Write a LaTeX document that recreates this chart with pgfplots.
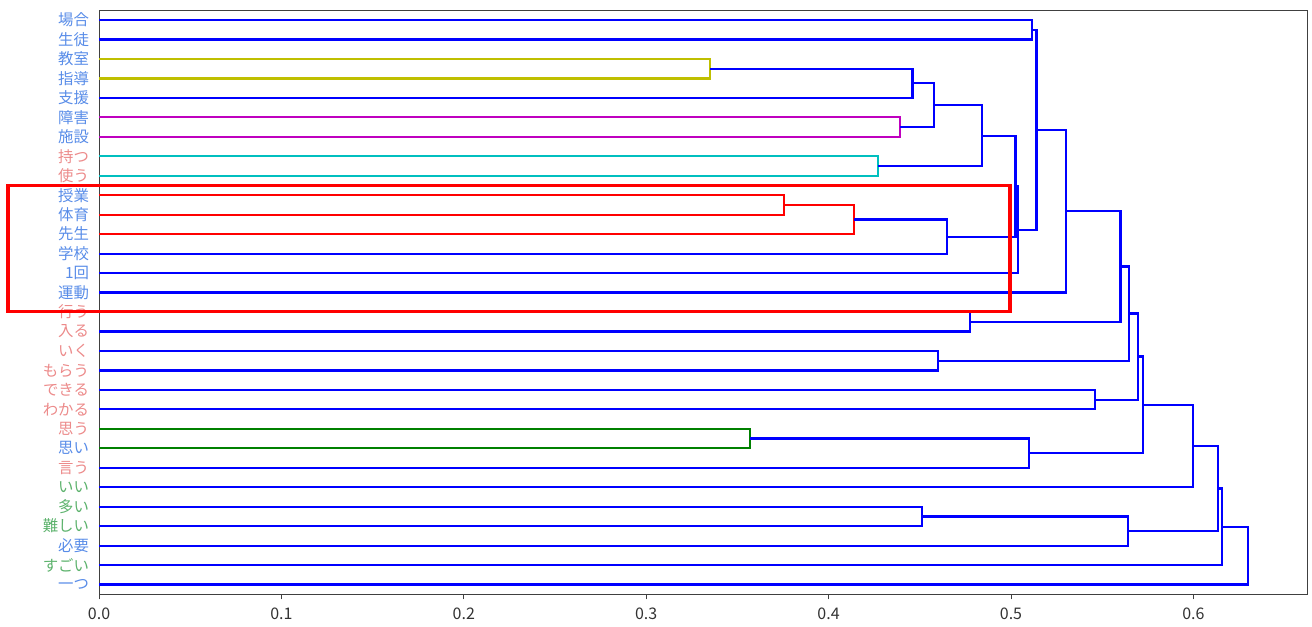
\documentclass[border=0pt]{standalone}
\usepackage{pgfplots}
\pgfplotsset{compat=1.18}
\usepackage{fontspec}
\newfontfamily\jp{Noto Sans CJK JP}

% link colours
\definecolor{linkblue}{RGB}{0,0,255}
\definecolor{linkyellow}{RGB}{191,191,0}
\definecolor{linkmagenta}{RGB}{191,0,191}
\definecolor{linkcyan}{RGB}{0,191,191}
\definecolor{linkred}{RGB}{255,0,0}
\definecolor{linkgreen}{RGB}{0,128,0}
% label colours
\definecolor{lb}{RGB}{88,140,232}
\definecolor{lp}{RGB}{236,138,138}
\definecolor{lg}{RGB}{92,178,108}

\begin{document}
\begin{tikzpicture}
\begin{axis}[
  scale only axis,
  width=604pt, height=292pt,
  xmin=0, xmax=0.6623,
  ymin=-0.5, ymax=29.5,
  y dir=reverse,
  clip=false,
  axis line style={draw=black!75, line width=0.5pt},
  xtick={0,0.1,0.2,0.3,0.4,0.5,0.6},
  xticklabels={0.0,0.1,0.2,0.3,0.4,0.5,0.6},
  xtick pos=bottom,
  tick align=outside,
  major tick length=2.5pt,
  tick style={draw=black!75, line width=0.4pt},
  xticklabel style={font=\jp\fontsize{8}{9}\selectfont, text=black!80, yshift=-1pt},
  ytick={0,...,29},
  ytick style={draw=none},
  yticklabel style={font=\jp\fontsize{7.7}{8}\selectfont, xshift=1pt},
  yticklabels={
    {\color{lb}場合},{\color{lb}生徒},{\color{lb}教室},{\color{lb}指導},{\color{lb}支援},
    {\color{lb}障害},{\color{lb}施設},{\color{lp}持つ},{\color{lp}使う},{\color{lb}授業},
    {\color{lb}体育},{\color{lb}先生},{\color{lb}学校},{\color{lb}1回},{\color{lb}運動},
    {\color{lp}行う},{\color{lp}入る},{\color{lp}いく},{\color{lp}もらう},{\color{lp}できる},
    {\color{lp}わかる},{\color{lp}思う},{\color{lb}思い},{\color{lp}言う},{\color{lg}いい},
    {\color{lg}多い},{\color{lg}難しい},{\color{lb}必要},{\color{lg}すごい},{\color{lb}一つ}},
  every axis plot/.append style={line width=1.1pt, mark=none},
]
% each link: (child height, child position) -> merge height -> (other child)
\addplot[linkblue] coordinates {(0,0) (0.5115,0) (0.5115,1) (0,1)};
\addplot[linkyellow] coordinates {(0,2) (0.335,2) (0.335,3) (0,3)};
\addplot[linkblue] coordinates {(0.335,2.5) (0.446,2.5) (0.446,4) (0,4)};
\addplot[linkmagenta] coordinates {(0,5) (0.439,5) (0.439,6) (0,6)};
\addplot[linkblue] coordinates {(0.446,3.25) (0.458,3.25) (0.458,5.5) (0.439,5.5)};
\addplot[linkcyan] coordinates {(0,7) (0.427,7) (0.427,8) (0,8)};
\addplot[linkblue] coordinates {(0.458,4.375) (0.484,4.375) (0.484,7.5) (0.427,7.5)};
\addplot[linkred] coordinates {(0,9) (0.3755,9) (0.3755,10) (0,10)};
\addplot[linkred] coordinates {(0.3755,9.5) (0.414,9.5) (0.414,11) (0,11)};
\addplot[linkblue] coordinates {(0.414,10.25) (0.465,10.25) (0.465,12) (0,12)};
\addplot[linkblue] coordinates {(0.484,5.9375) (0.5025,5.9375) (0.5025,11.125) (0.465,11.125)};
\addplot[linkblue] coordinates {(0.5025,8.531) (0.504,8.531) (0.504,13) (0,13)};
\addplot[linkblue] coordinates {(0.5115,0.5) (0.514,0.5) (0.514,10.766) (0.504,10.766)};
\addplot[linkblue] coordinates {(0.514,5.633) (0.530,5.633) (0.530,14) (0,14)};
\addplot[linkblue] coordinates {(0,15) (0.4775,15) (0.4775,16) (0,16)};
\addplot[linkblue] coordinates {(0.530,9.816) (0.560,9.816) (0.560,15.5) (0.4775,15.5)};
\addplot[linkblue] coordinates {(0,17) (0.460,17) (0.460,18) (0,18)};
\addplot[linkblue] coordinates {(0.560,12.658) (0.5647,12.658) (0.5647,17.5) (0.460,17.5)};
\addplot[linkblue] coordinates {(0,19) (0.546,19) (0.546,20) (0,20)};
\addplot[linkblue] coordinates {(0.5647,15.079) (0.5696,15.079) (0.5696,19.5) (0.546,19.5)};
\addplot[linkgreen] coordinates {(0,21) (0.357,21) (0.357,22) (0,22)};
\addplot[linkblue] coordinates {(0.357,21.5) (0.510,21.5) (0.510,23) (0,23)};
\addplot[linkblue] coordinates {(0.5696,17.289) (0.5724,17.289) (0.5724,22.25) (0.510,22.25)};
\addplot[linkblue] coordinates {(0.5724,19.770) (0.5998,19.770) (0.5998,24) (0,24)};
\addplot[linkblue] coordinates {(0,25) (0.451,25) (0.451,26) (0,26)};
\addplot[linkblue] coordinates {(0.451,25.5) (0.564,25.5) (0.564,27) (0,27)};
\addplot[linkblue] coordinates {(0.5998,21.885) (0.6135,21.885) (0.6135,26.25) (0.564,26.25)};
\addplot[linkblue] coordinates {(0.6135,24.067) (0.6157,24.067) (0.6157,28) (0,28)};
\addplot[linkblue] coordinates {(0.6157,26.034) (0.630,26.034) (0.630,29) (0,29)};
% highlight frame around one group
\draw[red, line width=1.75pt] (axis cs:-0.0499,8.5) rectangle (axis cs:0.4995,14.96);
% page extent
\path (axis cs:-0.0543,-1.03) rectangle (axis cs:0.6650,31.06);
\end{axis}
\end{tikzpicture}
\end{document}
